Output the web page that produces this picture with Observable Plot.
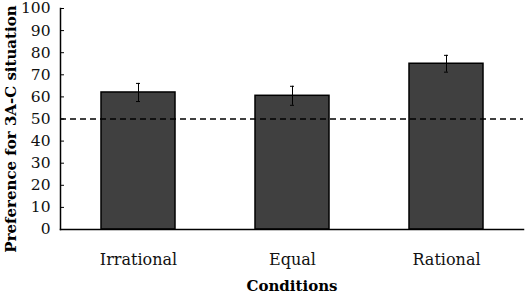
<!DOCTYPE html>
<html>
<head>
<meta charset="utf-8">
<script src="https://cdn.jsdelivr.net/npm/d3@7"></script>
<script src="https://cdn.jsdelivr.net/npm/@observablehq/plot@0.6"></script>
<style>
  html, body { margin: 0; padding: 0; background: #fff; }
</style>
</head>
<body>
<div id="chart"></div>
<script>
// Preference per condition, with error bars
const conditions = ["Irrational", "Equal", "Rational"];
const means = [62, 60.5, 75];
const errors = [4.1, 4.3, 3.8];
const chance = 50;
const yTicks = [0, 10, 20, 30, 40, 50, 60, 70, 80, 90, 100];

const rows = conditions.map((c, i) => ({
  condition: c,
  mean: means[i],
  lo: means[i] - errors[i],
  hi: means[i] + errors[i]
}));

const serif = "'DejaVu Serif', serif";

const chart = Plot.plot({
  width: 525,
  height: 299,
  marginLeft: 60,
  marginRight: 2,
  marginTop: 8,
  marginBottom: 70,
  style: { fontFamily: serif, fontSize: "16px", color: "#000", background: "#fff" },
  x: { domain: conditions, paddingInner: 0.52, paddingOuter: 0.26, label: null },
  y: { domain: [0, 100], label: null },
  marks: [
    Plot.barY(rows, { x: "condition", y: "mean", fill: "#404040", stroke: "#000", strokeWidth: 1.5 }),
    Plot.ruleY([chance], { stroke: "#000", strokeWidth: 1.5, strokeDasharray: "6,4" }),
    Plot.ruleX(rows, { x: "condition", y1: "lo", y2: "hi", stroke: "#000", strokeWidth: 1 }),
    Plot.tickY(rows, { x: "condition", y: "hi", stroke: "#000", strokeWidth: 1, inset: 35 }),
    Plot.tickY(rows, { x: "condition", y: "lo", stroke: "#000", strokeWidth: 1, inset: 35 }),
    Plot.axisY({ ticks: yTicks, tickSize: -4, tickPadding: 14, tickFormat: d => d, label: null, fontSize: 15.5, fill: "#111" }),
    Plot.axisX({ tickSize: 0, tickPadding: 24, label: null, fontSize: 16, fill: "#111" }),
    Plot.frame({ anchor: "left", stroke: "#000", strokeWidth: 1.5 }),
    Plot.frame({ anchor: "bottom", stroke: "#000", strokeWidth: 1.5 }),
    Plot.text(["Conditions"], { frameAnchor: "bottom", dy: 61, fontWeight: "bold", fontSize: 15 }),
    Plot.text(["Preference for 3A\u2010C situation"], { frameAnchor: "left", textAnchor: "middle", dx: -49, dy: 10, rotate: -90, fontWeight: "bold", fontSize: 15 })
  ]
});

document.getElementById("chart").appendChild(chart);
</script>
</body>
</html>
